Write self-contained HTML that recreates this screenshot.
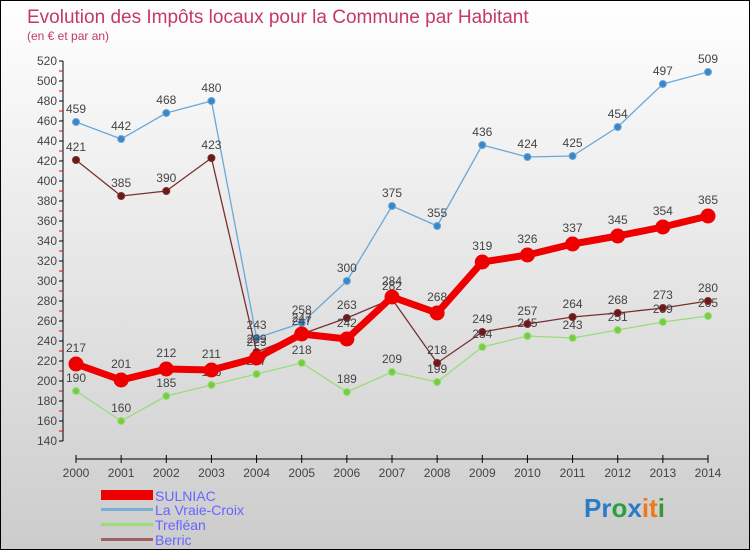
<!DOCTYPE html>
<html><head><meta charset="utf-8"><style>
body{margin:0}
#c{width:750px;height:550px;position:relative;box-sizing:border-box;border:1px solid #000;background:linear-gradient(#fff,#ccc);font-family:"Liberation Sans",sans-serif;overflow:hidden}
</style></head><body>
<div id="c">
<svg id="s" width="750" height="550" style="position:absolute;left:0;top:0">
<text x="26" y="22" font-size="19" fill="#c4386a">Evolution des Impôts locaux pour la Commune par Habitant</text>
<text x="26" y="39" font-size="12" fill="#c4386a">(en € et par an)</text>
<g id="axes"></g><g id="series"></g>
<g>
<rect x="100" y="489" width="52" height="10" fill="#e00"/>
<text x="154" y="500" font-size="14" fill="#66f">SULNIAC</text>
<rect x="100" y="507" width="52" height="3" fill="#7aaed6"/>
<text x="154" y="514" font-size="14" fill="#66f">La Vraie-Croix</text>
<rect x="100" y="522" width="52" height="3" fill="#99dd77"/>
<text x="154" y="529" font-size="14" fill="#66f">Trefléan</text>
<rect x="100" y="537" width="52" height="3" fill="#a06060"/>
<text x="154" y="544" font-size="14" fill="#66f">Berric</text>
</g>
<text x="583" y="516" font-size="26" font-weight="bold"><tspan fill="#2a7cc7">Pr</tspan><tspan fill="#2aa040">o</tspan><tspan fill="#2a7cc7">x</tspan><tspan fill="#f07818">it</tspan><tspan fill="#3a9a30">i</tspan></text>
</svg>
</div>
<script>
const years=["2000","2001","2002","2003","2004","2005","2006","2007","2008","2009","2010","2011","2012","2013","2014"];
const yTicks=[140,160,180,200,220,240,260,280,300,320,340,360,380,400,420,440,460,480,500,520];
const sulniac=[217,201,212,211,223,247,242,284,268,319,326,337,345,354,365];
const vraieCroix=[459,442,468,480,243,258,300,375,355,436,424,425,454,497,509];
const treffleant=[190,160,185,196,207,218,189,209,199,234,245,243,251,259,265];
const berric=[421,385,390,423,229,247,263,282,218,249,257,264,268,273,280];
const NS="http://www.w3.org/2000/svg";
const X=i=>75+i*(707-75)/14;
const Y=v=>60+(520-v)*(440-60)/380;
function mk(t,a,p){const e=document.createElementNS(NS,t);for(const k in a)e.setAttribute(k,a[k]);p.appendChild(e);return e;}
const ax=document.getElementById('axes');
let l=mk('line',{x1:62,y1:Y(520),x2:62,y2:Y(140),stroke:'#000'},ax);


l=mk('line',{x1:X(0),y1:458,x2:X(14),y2:458,stroke:'#000'},ax);


yTicks.forEach((v,i)=>{
 mk('line',{x1:58,y1:Y(v),x2:62,y2:Y(v),stroke:'#000'},ax);
 if(i<yTicks.length-1)mk('line',{x1:58,y1:Y(v+10),x2:62,y2:Y(v+10),stroke:'#e00'},ax);
 const t=mk('text',{x:56,y:Y(v)+4,'text-anchor':'end','font-size':12,fill:'#444'},ax);t.textContent=v;
 
 
});
years.forEach((y,i)=>{
 mk('line',{x1:X(i),y1:454,x2:X(i),y2:462,stroke:'#000'},ax);
 const t=mk('text',{x:X(i),y:476,'text-anchor':'middle','font-size':12,fill:'#444'},ax);t.textContent=y;
 
 
});
const sg=document.getElementById('series');
function series(d,col,fill,w,r,name){
 const g=mk('g',{},sg);
 
 
 const p=mk('polyline',{points:d.map((v,i)=>X(i)+','+Y(v)).join(' '),fill:'none',stroke:col,'stroke-width':w,'stroke-linejoin':'round'},g);
 
 
 d.forEach((v,i)=>{
  const c=mk('circle',{cx:X(i),cy:Y(v),r:r,fill:fill,stroke:col,'stroke-width':1},g);
  
  
  const t=mk('text',{x:X(i),y:Y(v)-9-(r>5?3:0),'text-anchor':'middle','font-size':12,fill:'#444'},g);t.textContent=v;
  
  
 });
}
series(vraieCroix,'#6aa8d8','#3a86c6',1.3,3.5,'la-vraie-croix');
series(treffleant,'#99dd77','#77cc44',1.3,3.5,'treffleant');
series(berric,'#7a3030','#6a1a1a',1.3,3.5,'berric');
series(sulniac,'#ee0000','#ee0000',7,7,'sulniac');
</script>
</body></html>
